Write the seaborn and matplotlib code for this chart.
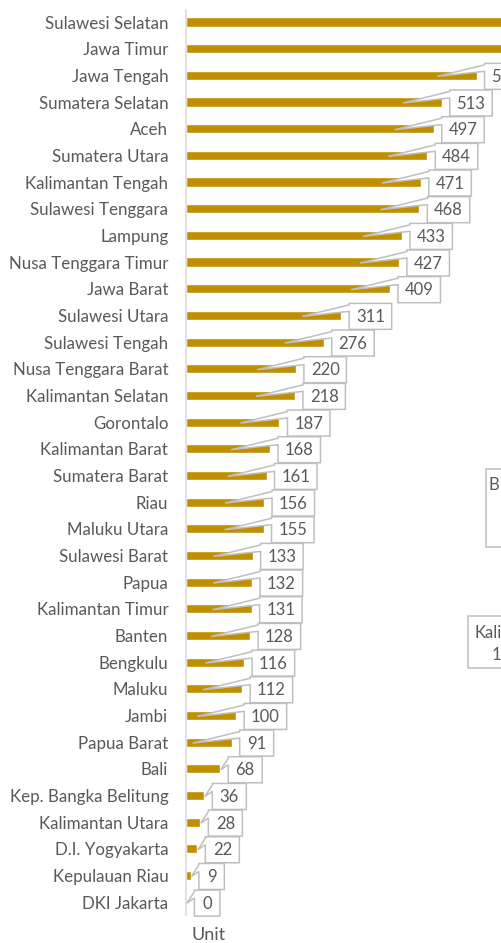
import matplotlib
matplotlib.use("Agg")
import numpy as np
import pandas as pd
import seaborn as sns
import matplotlib.pyplot as plt
from matplotlib.patches import Polygon, Rectangle
from matplotlib.transforms import ScaledTranslation

# Units per province, largest first
provinces = [
    "Sulawesi Selatan", "Jawa Timur", "Jawa Tengah", "Sumatera Selatan", "Aceh",
    "Sumatera Utara", "Kalimantan Tengah", "Sulawesi Tenggara", "Lampung",
    "Nusa Tenggara Timur", "Jawa Barat", "Sulawesi Utara", "Sulawesi Tengah",
    "Nusa Tenggara Barat", "Kalimantan Selatan", "Gorontalo", "Kalimantan Barat",
    "Sumatera Barat", "Riau", "Maluku Utara", "Sulawesi Barat", "Papua",
    "Kalimantan Timur", "Banten", "Bengkulu", "Maluku", "Jambi", "Papua Barat",
    "Bali", "Kep. Bangka Belitung", "Kalimantan Utara", "D.I. Yogyakarta",
    "Kepulauan Riau", "DKI Jakarta",
]
units = [
    798, 721, 583, 513, 497, 484, 471, 468, 433, 427, 409, 311, 276, 220, 218,
    187, 168, 161, 156, 155, 133, 132, 131, 128, 116, 112, 100, 91, 68, 36, 28,
    22, 9, 0,
]
axis_title = "Unit"

BAR_COLOR = "#BF8F00"
TEXT_COLOR = "#595959"
BOX_EDGE = "#BFBFBF"
AXIS_LINE = "#D9D9D9"

sns.set_theme(style="white")
plt.rcParams["font.family"] = ["Lato", "DejaVu Sans"]

DPI = 100
W, H = 502, 943
fig = plt.figure(figsize=(W / DPI, H / DPI), dpi=DPI)
fig.patch.set_facecolor("white")

# axes geometry in pixels
x0_px = 186.4
px_per_unit = 0.4977
row0_px, row_step = 22.0, 26.67
n = len(provinces)
top_pad, bot_pad = 0.45, 0.49
ax_top = row0_px - top_pad * row_step
ax_bot = row0_px + (n - 1 + bot_pad) * row_step
ax = fig.add_axes([x0_px / W, 1 - ax_bot / H, 1 - x0_px / W, (ax_bot - ax_top) / H])

df = pd.DataFrame({"Provinsi": provinces, "Unit": units})
sns.barplot(data=df, y="Provinsi", x="Unit", orient="h", color=BAR_COLOR,
            saturation=1, width=0.34, ax=ax, zorder=2)

ax.set_xlim(0, (W - x0_px) / px_per_unit)
ax.set_ylim(n - 1 + bot_pad, -top_pad)
ax.set_xticks([])
ax.set_xlabel("")
ax.set_ylabel("")
for s in ("top", "right", "bottom"):
    ax.spines[s].set_visible(False)
ax.spines["left"].set_color(AXIS_LINE)
ax.spines["left"].set_linewidth(1.1)
ax.tick_params(axis="y", length=0, pad=13, labelsize=12.2, labelcolor=TEXT_COLOR)


def px(dx, dy):
    # pixel offset (y down) -> inches (y up)
    return (dx / DPI, -dy / DPI)


# callout labels: white box with a wedge pointing back into the bar
for i, v in enumerate(units):
    bar_px = v * px_per_unit
    bx0 = 8.0
    if x0_px + bar_px + bx0 >= W:
        continue  # callout lies beyond the right edge of the figure
    trans = fig.dpi_scale_trans + ScaledTranslation(v, i, ax.transData)
    label = f"{v}"
    w = 17 + 8.5 * len(label)
    bx1 = bx0 + w
    top, bot = -12.0, 14.0
    tip_x = -39.0 if bar_px > 42 else 0.5
    verts = [px(bx0, top), px(bx1, top), px(bx1, bot), px(bx0, bot),
             px(bx0, top + 8), px(tip_x, 1.0), px(bx0, top + 1.5)]
    poly = Polygon(verts, closed=True, transform=trans, facecolor="white",
                   edgecolor=BOX_EDGE, linewidth=1.1, clip_on=False, zorder=5 + i * 0.01)
    ax.add_patch(poly)
    tx, ty = px(bx0 + w / 2, 1.5)
    ax.text(tx, ty, label, transform=trans, ha="center", va="center",
            fontsize=12, color=TEXT_COLOR, clip_on=False, zorder=5.005 + i * 0.01)

# neighbouring callouts entering from the right edge
fig.patches.append(Rectangle((486 / W, 1 - 547 / H), 40 / W, 78 / H, transform=fig.transFigure,
                             facecolor="white", edgecolor=BOX_EDGE, linewidth=1.1))
fig.text(489 / W, 1 - 485 / H, "B", ha="left", va="center", fontsize=12, color=TEXT_COLOR)
fig.patches.append(Rectangle((468 / W, 1 - 668 / H), 60 / W, 52 / H, transform=fig.transFigure,
                             facecolor="white", edgecolor=BOX_EDGE, linewidth=1.1))
fig.text(475 / W, 1 - 633 / H, "Kali", ha="left", va="center", fontsize=12, color=TEXT_COLOR)
fig.text(492 / W, 1 - 655 / H, "1", ha="left", va="center", fontsize=12, color=TEXT_COLOR)

fig.text(209 / W, 1 - 935 / H, axis_title, ha="center", va="center", fontsize=13, color=TEXT_COLOR)

fig.savefig("out.png", dpi=DPI, facecolor="white")
